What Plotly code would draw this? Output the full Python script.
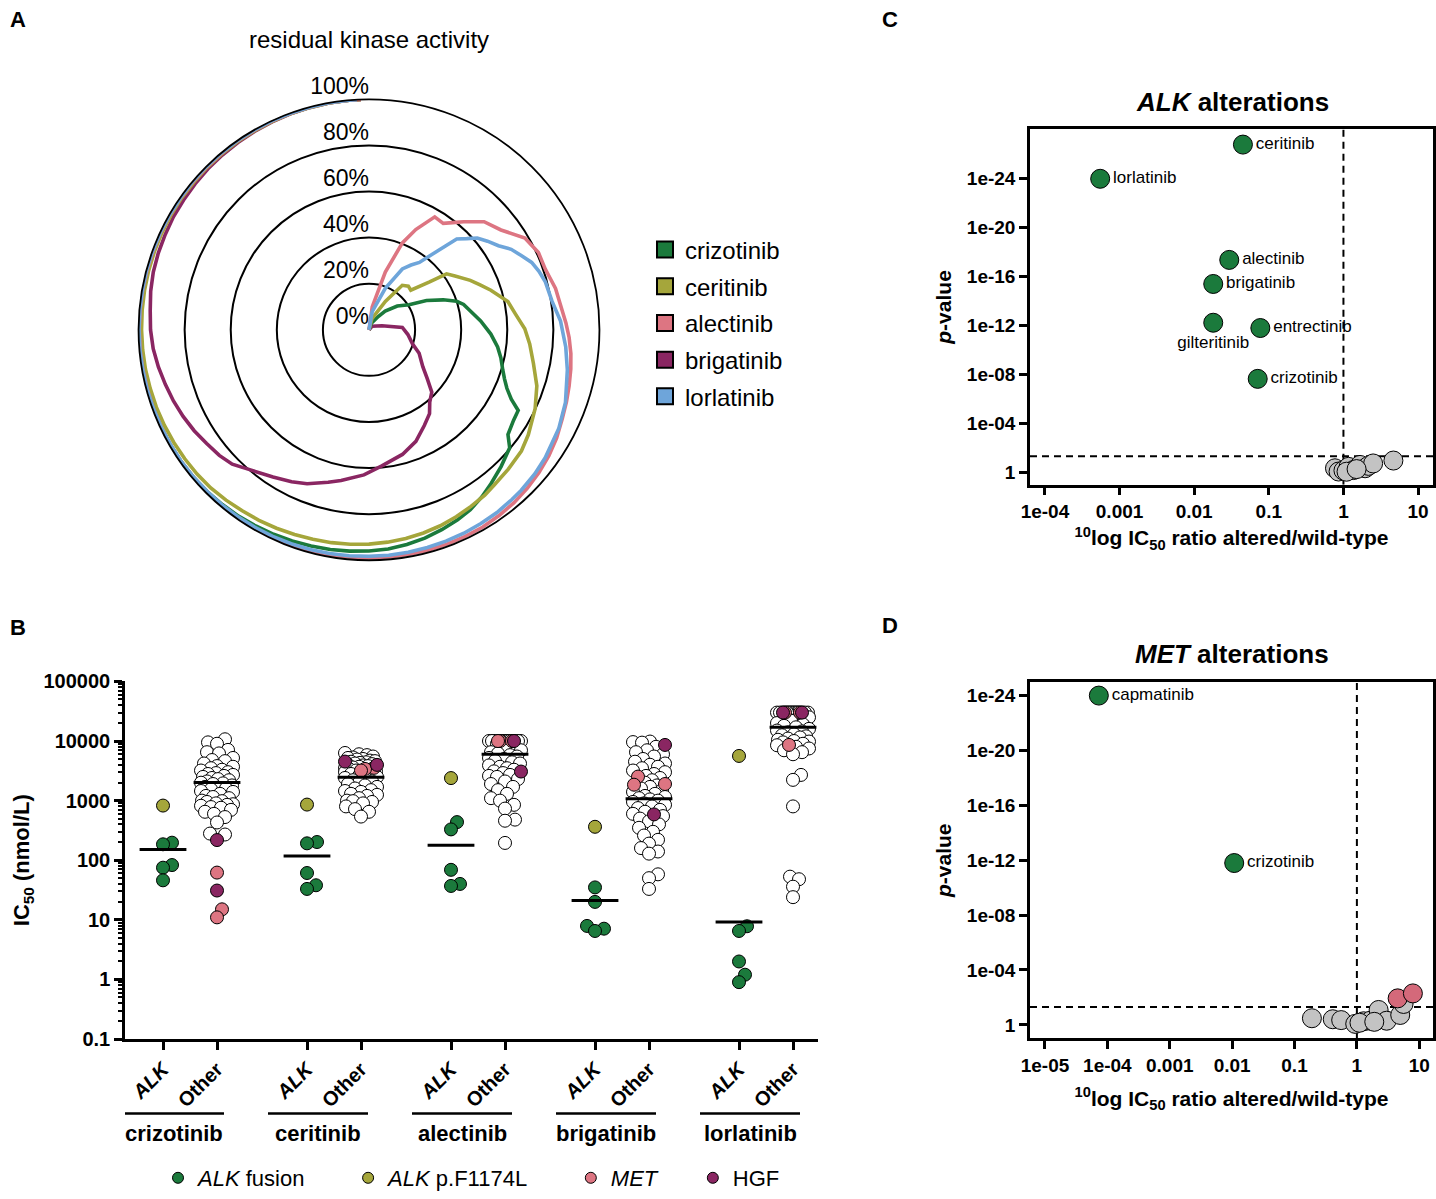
import numpy as np
import plotly.graph_objects as go

W, H = 1436, 1199
FONT = "Arial, Liberation Sans, Helvetica, sans-serif"

GREEN = "#1b7a3c"
OLIVE = "#a5a63b"
PINK = "#dd7582"
PURPLE = "#8a2662"
BLUE = "#6ea5da"
GRAY = "#c3c3c3"

# ---------------- Panel A: residual kinase activity (theta in degrees, r in %) ----------------
a_drugs = ["crizotinib", "ceritinib", "alectinib", "brigatinib", "lorlatinib"]
a_colors = [GREEN, OLIVE, PINK, PURPLE, BLUE]

theta_crizotinib = [0, 20, 35, 41, 50, 58, 63, 68, 72, 75, 80, 85.5, 92, 97.6, 102, 106.7, 110, 113, 116,
                    118.4, 122, 127, 130, 136, 141.6, 146, 150.6, 155, 160, 165, 170, 175, 180, 185, 190,
                    195, 200, 205, 210, 215, 220, 225, 230, 235, 240, 245, 250, 255, 260, 265, 270, 275,
                    280, 285, 290, 295, 300, 305, 310, 315, 320, 325, 330, 335, 340, 345, 350, 355, 358]
r_crizotinib = [0, 3, 7, 10.7, 16, 20.5, 28, 34.7, 40, 42.5, 45, 48.6, 52.9, 56.3, 58.5, 60.6, 62.6, 65, 68.7,
                73.6, 74, 75.5, 79.7, 82.5, 85.2, 87.5, 89.6, 91, 92.3, 93.6, 94.6, 95.5, 96, 96.4, 96.8,
                97.1, 97.5, 97.9, 98.3, 98.7, 99, 99.3, 99.5, 99.6, 99.6, 99.6, 99.6, 99.7, 99.7, 99.7, 99.7, 99.7,
                99.8, 99.8, 99.8, 99.8, 99.8, 99.8, 99.9, 99.9, 99.9, 99.9, 99.9, 99.9, 99.9, 100, 100, 100, 100]

theta_ceritinib = [0, 15, 30, 36.8, 42, 46.5, 51.7, 54.2, 58, 64, 68, 72, 78.5, 84, 89.6, 95, 101.5, 108.5,
                   115.4, 123.4, 128.5, 135, 141, 145, 150, 155, 160, 165, 170, 175, 180, 185, 190, 195, 200,
                   205, 210, 215, 220, 225, 230, 235, 240, 245, 250, 255, 260, 265, 270, 275, 280, 285, 290,
                   295, 300, 305, 310, 315, 320, 325, 330, 335, 340, 345, 350, 355, 358]
r_ceritinib = [0, 5, 14.2, 24.1, 25.5, 25, 33.5, 41.5, 44, 48.9, 52, 55.6, 61.5, 64, 67.6, 70, 72.8, 76.8,
               79.8, 82.8, 84.5, 85.5, 86.5, 87.6, 88.5, 89.5, 90.5, 91.3, 92, 92.5, 93, 93.4, 93.8, 94.1, 94.5,
               95, 95.5, 95.9, 96.5, 97.1, 97.4, 97.6, 97.8, 98, 98.2, 98.3, 98.5, 98.6, 98.7, 98.8, 98.9, 99, 99.1,
               99.2, 99.3, 99.4, 99.4, 99.5, 99.5, 99.6, 99.6, 99.7, 99.8, 99.8, 99.9, 100, 100]

theta_alectinib = [0, 8, 15.8, 21, 25, 30.2, 34.9, 38, 41.2, 46.8, 52.9, 59.5, 65.5, 71, 77.5, 82.6, 88, 92.2,
                   96.7, 101, 105.7, 110, 114.7, 120, 125, 130, 135, 140, 145, 150, 155, 160, 165, 170, 175,
                   180, 185, 190, 195, 200, 205, 210, 215, 220, 225, 230, 235, 240, 245, 250, 255, 260, 265,
                   270, 275, 280, 285, 290, 295, 300, 305, 310, 315, 320, 325, 330, 335, 340, 345, 350, 355, 358]
r_alectinib = [0, 10, 26, 40.4, 48, 56.7, 56.3, 59, 62.3, 68.5, 71.8, 78.5, 80.8, 80.9, 82.9, 83.8, 85.5, 86.9,
               88.2, 89.2, 90.2, 91.2, 92.3, 94, 95.3, 96.3, 97.2, 97.9, 98.4, 98.8, 98.9, 99, 99, 99, 99,
               99, 99.1, 99.1, 99.2, 99.3, 99.3, 99.4, 99.4, 99.5, 99.5, 99.5, 99.6, 99.6, 99.6, 99.6, 99.6, 99.6, 99.7,
               99.7, 99.7, 99.7, 99.7, 99.7, 99.8, 99.8, 99.8, 99.8, 99.8, 99.8, 99.9, 99.9, 99.9, 99.9, 100, 100, 100, 100]

theta_brigatinib = [0, 40, 73, 86, 97, 107.8, 115, 124.4, 130, 134.8, 140, 144.2, 150, 157.2, 165, 174.6, 182,
                    190.5, 195, 201.9, 207, 213.1, 220, 225.5, 230, 235, 240, 245, 250, 255, 260, 265, 270, 275,
                    280, 285, 290, 295, 300, 305, 310, 315, 320, 325, 330, 335, 340, 345, 350, 355, 358]
r_brigatinib = [0, 2, 5.9, 14.5, 17, 19.8, 24, 28.3, 33, 38.4, 41, 44.9, 48, 52.5, 56, 59.3, 63,
                66.5, 68.5, 72, 74, 76.3, 79.5, 83.2, 84.8, 86, 87.6, 89, 90.3, 91.5, 92.8, 94, 94.8, 95.3,
                96.2, 96.9, 97.3, 97.6, 98, 98.2, 98.5, 98.8, 99, 99.2, 99.4, 99.5, 99.7, 99.8, 99.9, 100, 100]

theta_lorlatinib = [0, 10, 21.5, 28.7, 33, 36.8, 41.4, 44, 47, 49.7, 53.2, 57, 60.5, 64, 67.5, 71, 74.8, 81.2,
                    87.4, 95, 101.4, 110.3, 117.4, 126, 131, 136.5, 140, 145, 150, 155, 160, 165, 170, 175,
                    180, 185, 190, 195, 200, 205, 210, 215, 220, 225, 230, 235, 240, 245, 250, 255, 260, 265,
                    270, 275, 280, 285, 290, 295, 300, 305, 310, 315, 320, 325, 330, 335, 340, 345, 350, 355, 357]
r_lorlatinib = [0, 8, 19.3, 30.1, 33.5, 36.5, 46.5, 54.8, 58, 61.6, 64.2, 67, 70.9, 73.5, 76.4, 78, 79.3, 80.4,
                83.2, 85.7, 87.8, 90.9, 92.8, 94.5, 95.3, 96, 96.3, 96.8, 97.1, 97.4, 97.6, 97.8, 98, 98.2,
                98.3, 98.4, 98.6, 98.7, 98.8, 98.9, 99, 99.1, 99.2, 99.3, 99.4, 99.5, 99.5, 99.6, 99.6, 99.7, 99.7, 99.8,
                99.8, 99.8, 99.8, 99.9, 99.9, 99.9, 99.9, 99.9, 100, 100, 100, 100, 100, 100, 100, 100, 100, 100, 100]

a_ticks = [0, 20, 40, 60, 80, 100]
a_ticktext = ["0%", "20%", "40%", "60%", "80%", "100%"]

# ---------------- Panel B: IC50 values (nmol/L) ----------------
b_drugs = ["crizotinib", "ceritinib", "alectinib", "brigatinib", "lorlatinib"]
b_ticktext = ["<i>ALK</i>", "Other"]

crizotinib_alk_fusion = [197, 185, 83, 75, 46]
crizotinib_alk_f1174l = [826]
crizotinib_other = [10700, 9500, 9000, 7100, 6500, 6200, 5200, 4800, 4600, 4200,
                    3800, 3700, 3500, 3300, 3200, 3000, 2900, 2800, 2700, 2600,
                    2500, 2400, 2300, 2200, 2100, 2000, 1950, 1900, 1800, 1700,
                    1650, 1600, 1550, 1450, 1400, 1300, 1200, 1150, 1100, 1000,
                    980, 950, 900, 870, 850, 820, 780, 760, 700, 650,
                    600, 530, 430, 280, 270]
crizotinib_met = [62, 15, 11]
crizotinib_hgf = [218, 31]

ceritinib_alk_fusion = [202, 192, 61, 38, 33]
ceritinib_alk_f1174l = [858]
ceritinib_other = [6300, 6000, 5800, 5500, 5300, 5200, 5000, 4900, 4700, 4600,
                   4500, 4400, 4300, 4200, 4100, 4000, 3900, 3800, 3700, 3600,
                   3500, 3400, 3300, 3200, 3100, 3000, 2900, 2800, 2700, 2600,
                   2500, 2400, 2300, 2200, 2100, 2000, 1900, 1800, 1700, 1600,
                   1500, 1450, 1400, 1300, 1250, 1200, 1100, 1000, 980, 950,
                   900, 800, 720, 650, 540]
ceritinib_met = [3550, 3400, 3200]
ceritinib_hgf = [3980, 4520]

alectinib_alk_fusion = [436, 329, 69, 40, 37]
alectinib_alk_f1174l = [2390]
alectinib_other = [10000, 10000, 10000, 10000, 10000, 10000, 10000, 10000, 10000, 10000,
                   10000, 10000, 10000, 10000, 10000, 10000, 10000, 10000, 10000, 10000,
                   9000, 8000, 7500, 7000, 6500, 6200, 5800, 5500, 5200, 5000,
                   4640, 4400, 4200, 3900, 3700, 3500, 3300, 3100, 2900, 2700,
                   2600, 2500, 2300, 2100, 1900, 1700, 1500, 1300, 1100, 1000,
                   850, 735, 480, 460, 195]
alectinib_met = [10000, 10000, 10000]
alectinib_hgf = [10000, 3075]

brigatinib_alk_fusion = [35, 20, 7.9, 7.1, 6.5]
brigatinib_alk_f1174l = [364]
brigatinib_other = [9800, 9600, 9400, 8000, 7000, 6500, 6000, 5500, 5000, 4500,
                    4200, 4000, 3700, 3500, 3200, 3000, 2800, 2600, 2400, 2200,
                    2000, 1800, 1700, 1600, 1500, 1400, 1300, 1200, 1150, 1100,
                    1050, 1000, 950, 900, 850, 800, 750, 700, 650, 600,
                    550, 500, 450, 400, 350, 300, 260, 220, 190, 160,
                    140, 129, 58, 50, 33]
brigatinib_met = [2530, 1900, 1850]
brigatinib_hgf = [8600, 587]

lorlatinib_alk_fusion = [7.8, 6.5, 2.0, 1.2, 0.9]
lorlatinib_alk_f1174l = [5620]
lorlatinib_other = [30000, 30000, 30000, 30000, 30000, 30000, 30000, 30000, 30000, 30000,
                    30000, 30000, 30000, 30000, 30000, 30000, 30000, 30000, 30000, 30000,
                    30000, 30000, 25000, 22000, 20000, 19000, 18000, 17000, 16000, 15000,
                    14500, 14000, 13000, 12500, 12000, 11500, 11000, 10500, 10000, 9800,
                    9500, 9000, 8500, 8000, 7500, 7000, 6500, 6000, 2700, 2230,
                    800, 53, 48, 36, 24]
lorlatinib_met = [30000, 30000, 8600]
lorlatinib_hgf = [30000, 30000]

alk_medians = [152, 118, 178, 21, 9.2]
other_medians = [2018, 2460, 6000, 1080, 17000]

b_yticks = [0.1, 1, 10, 100, 1000, 10000, 100000]
b_yticktext = ["0.1", "1", "10", "100", "1000", "10000", "100000"]
b_legend_names = ["<i>ALK</i> fusion", "<i>ALK</i> p.F1174L", "<i>MET</i>", "HGF"]

# ---------------- Panel C: ALK alterations ----------------
c_drugs = ["ceritinib", "lorlatinib", "alectinib", "brigatinib", "gilteritinib", "entrectinib", "crizotinib"]
c_ratio = [0.045, 0.00055, 0.0295, 0.018, 0.018, 0.077, 0.071]
c_pvalue = [1.6e-27, 1e-24, 4.3e-18, 4e-16, 5.9e-13, 1.6e-12, 2.3e-8]
c_other_ratio = [0.77, 0.86, 1.0, 1.17, 1.36, 1.67, 1.95, 2.16, 2.5, 4.67, 1.1, 1.5]
c_other_pvalue = [0.47, 0.87, 0.72, 0.36, 0.66, 0.25, 0.47, 0.3, 0.19, 0.11, 0.9, 0.55]

# ---------------- Panel D: MET alterations ----------------
d_drugs = ["capmatinib", "crizotinib"]
d_ratio = [7.3e-5, 0.0108]
d_pvalue = [1e-24, 1.6e-12]
d_other_ratio = [0.19, 0.41, 0.56, 0.94, 1.28, 1.64, 2.1, 2.68, 2.23, 3.0, 4.95, 5.6, 1.1, 1.9]
d_other_pvalue = [0.33, 0.39, 0.45, 0.85, 0.55, 0.5, 0.45, 0.4, 0.082, 0.5, 0.19, 0.03, 0.7, 0.6]
d_met_ratio = [4.5, 7.9]
d_met_pvalue = [0.0117, 0.0051]

volcano_xticks_c = [1e-4, 1e-3, 0.01, 0.1, 1, 10]
volcano_xticktext_c = ["1e-04", "0.001", "0.01", "0.1", "1", "10"]
volcano_xticks_d = [1e-5, 1e-4, 1e-3, 0.01, 0.1, 1, 10]
volcano_xticktext_d = ["1e-05", "1e-04", "0.001", "0.01", "0.1", "1", "10"]
volcano_yticks = [1, 1e-4, 1e-8, 1e-12, 1e-16, 1e-20, 1e-24]
volcano_yticktext = ["1", "1e-04", "1e-08", "1e-12", "1e-16", "1e-20", "1e-24"]
p_threshold = 0.05
ratio_reference = 1.0


# ---------------- helpers ----------------
def fx(px):
    return px / W


def fy(py):
    return 1 - py / H


def swarm(values, diam=13.0, ppd=60.0, gap=0.7, maxw=16.0):
    ys = np.log10(np.asarray(values, float)) * ppd
    order = np.argsort(ys, kind="stable")
    cands = [0.0]
    k = 1
    while k <= maxw:
        cands += [float(k), float(-k)]
        k += 1
    dmin = diam * gap
    placed = []
    offs = np.zeros(len(ys))
    for i in order:
        y = ys[i]
        near = [(px, py) for px, py in placed if abs(py - y) < dmin]
        best, bestd = 0.0, -1.0
        for c in cands:
            d = min((np.hypot(c - px, y - py) for px, py in near), default=1e9)
            if d >= dmin:
                best = c
                break
            if d > bestd + 1e-9:
                bestd, best = d, c
        placed.append((best, y))
        offs[i] = best
    return offs


fig = go.Figure()

# ---------------- Panel A traces ----------------
a_theta = [theta_crizotinib, theta_ceritinib, theta_alectinib, theta_brigatinib, theta_lorlatinib]
a_r = [r_crizotinib, r_ceritinib, r_alectinib, r_brigatinib, r_lorlatinib]
draw_order = [3, 0, 1, 2, 4]
for i in draw_order:
    fig.add_trace(go.Scatterpolar(r=a_r[i], theta=a_theta[i], mode="lines",
                                  line=dict(color=a_colors[i], width=3.6),
                                  showlegend=False, hoverinfo="skip", subplot="polar"))
for k, (name, col) in enumerate(zip(a_drugs, a_colors)):
    fig.add_trace(go.Scatterpolar(r=[None], theta=[None], mode="markers", name=name,
                                  legendgroup="a%d" % k,
                                  marker=dict(symbol="square", size=16, color=col,
                                              line=dict(color="black", width=2)),
                                  legend="legend", subplot="polar"))
fig.add_trace(go.Scatterpolar(r=a_ticks, theta=[0] * len(a_ticks), mode="text", text=a_ticktext,
                              textposition="top left", textfont=dict(size=23, color="black"),
                              showlegend=False, hoverinfo="skip", subplot="polar", cliponaxis=False))

# ---------------- Panel B traces ----------------
PXU = 18.0
b_alk_fusion = [crizotinib_alk_fusion, ceritinib_alk_fusion, alectinib_alk_fusion, brigatinib_alk_fusion, lorlatinib_alk_fusion]
b_alk_f1174l = [crizotinib_alk_f1174l, ceritinib_alk_f1174l, alectinib_alk_f1174l, brigatinib_alk_f1174l, lorlatinib_alk_f1174l]
b_other = [crizotinib_other, ceritinib_other, alectinib_other, brigatinib_other, lorlatinib_other]
b_met = [crizotinib_met, ceritinib_met, alectinib_met, brigatinib_met, lorlatinib_met]
b_hgf = [crizotinib_hgf, ceritinib_hgf, alectinib_hgf, brigatinib_hgf, lorlatinib_hgf]

tickpos = []
mk = dict(size=13, line=dict(color="black", width=1))
for g in range(len(b_drugs)):
    xa = 8 * g - 1.5
    xo = 8 * g + 1.5
    tickpos += [xa, xo]
    vals = list(b_alk_fusion[g]) + list(b_alk_f1174l[g])
    offs = swarm(vals) / PXU
    nf = len(b_alk_fusion[g])
    fig.add_trace(go.Scatter(x=xa + offs[:nf], y=b_alk_fusion[g], mode="markers",
                             marker=dict(color=GREEN, **mk), showlegend=False, xaxis="x", yaxis="y"))
    fig.add_trace(go.Scatter(x=xa + offs[nf:], y=b_alk_f1174l[g], mode="markers",
                             marker=dict(color=OLIVE, **mk), showlegend=False, xaxis="x", yaxis="y"))
    vals = list(b_other[g]) + list(b_met[g]) + list(b_hgf[g])
    offs = swarm(vals) / PXU
    nw = len(b_other[g])
    nm = len(b_met[g])
    fig.add_trace(go.Scatter(x=xo + offs[:nw], y=b_other[g], mode="markers",
                             marker=dict(color="white", **mk), showlegend=False, xaxis="x", yaxis="y"))
    fig.add_trace(go.Scatter(x=xo + offs[nw:nw + nm], y=b_met[g], mode="markers",
                             marker=dict(color=PINK, **mk), showlegend=False, xaxis="x", yaxis="y"))
    fig.add_trace(go.Scatter(x=xo + offs[nw + nm:], y=b_hgf[g], mode="markers",
                             marker=dict(color=PURPLE, **mk), showlegend=False, xaxis="x", yaxis="y"))
    for xc, m in [(xa, alk_medians[g]), (xo, other_medians[g])]:
        fig.add_trace(go.Scatter(x=[xc - 1.3, xc + 1.3], y=[m, m], mode="lines",
                                 line=dict(color="black", width=3), showlegend=False,
                                 hoverinfo="skip", xaxis="x", yaxis="y"))

NB = "\u00a0"
b_legend_pad = [6, 6, 5, 0]
for name, col, pad in zip(b_legend_names, [GREEN, OLIVE, PINK, PURPLE], b_legend_pad):
    fig.add_trace(go.Scatter(x=[None], y=[None], mode="markers", name=name + NB * pad,
                             marker=dict(color=col, size=11, line=dict(color="black", width=1)),
                             legend="legend2", xaxis="x", yaxis="y"))


# ---------------- Panel C / D traces ----------------
def dashed(xs, ys, xa, ya):
    return go.Scatter(x=xs, y=ys, mode="lines", line=dict(color="black", width=2, dash="7px,5px"),
                      showlegend=False, hoverinfo="skip", xaxis=xa, yaxis=ya)


c_xrange = [-4.2, 1.2]
c_yrange = [1.02, -28.06]
d_xrange = [-5.24, 1.22]
d_yrange = [0.96, -24.96]

fig.add_trace(dashed([10 ** c_xrange[0], 10 ** c_xrange[1]], [p_threshold, p_threshold], "x2", "y2"))
fig.add_trace(dashed([ratio_reference, ratio_reference], [10 ** c_yrange[0], 10 ** c_yrange[1]], "x2", "y2"))
fig.add_trace(dashed([10 ** d_xrange[0], 10 ** d_xrange[1]], [p_threshold, p_threshold], "x3", "y3"))
fig.add_trace(dashed([ratio_reference, ratio_reference], [10 ** d_yrange[0], 10 ** d_yrange[1]], "x3", "y3"))

vm = dict(size=19, line=dict(color="black", width=1))
fig.add_trace(go.Scatter(x=c_other_ratio, y=c_other_pvalue, mode="markers",
                         marker=dict(color=GRAY, **vm), showlegend=False, xaxis="x2", yaxis="y2"))
c_pos = ["middle right"] * len(c_drugs)
c_pos[c_drugs.index("gilteritinib")] = "bottom center"
fig.add_trace(go.Scatter(x=c_ratio, y=c_pvalue, mode="markers+text", text=c_drugs,
                         textposition=c_pos, textfont=dict(size=17, color="black"),
                         marker=dict(color=GREEN, **vm), showlegend=False, xaxis="x2", yaxis="y2",
                         cliponaxis=False))

fig.add_trace(go.Scatter(x=d_other_ratio, y=d_other_pvalue, mode="markers",
                         marker=dict(color=GRAY, **vm), showlegend=False, xaxis="x3", yaxis="y3"))
fig.add_trace(go.Scatter(x=d_met_ratio, y=d_met_pvalue, mode="markers",
                         marker=dict(color="#d4697a", **vm), showlegend=False, xaxis="x3", yaxis="y3"))
fig.add_trace(go.Scatter(x=d_ratio, y=d_pvalue, mode="markers+text", text=d_drugs,
                         textposition="middle right", textfont=dict(size=17, color="black"),
                         marker=dict(color=GREEN, **vm), showlegend=False, xaxis="x3", yaxis="y3",
                         cliponaxis=False))

# ---------------- layout ----------------
axis_common = dict(showgrid=False, zeroline=False, showline=True, linecolor="black", linewidth=2.5,
                   ticks="outside", ticklen=8, tickwidth=2.5, tickcolor="black", automargin=False,
                   tickfont=dict(size=19, color="black", weight="bold"))

minor_vals = [m * 10.0 ** e for e in range(-1, 5) for m in range(2, 10)]

b_x_range = [-1.5 - 38 / PXU, 8 * 4 + 1.5 + 25 / PXU]

layout = dict(
    width=W, height=H, margin=dict(l=0, r=0, t=0, b=0),
    paper_bgcolor="white", plot_bgcolor="white",
    font=dict(family=FONT, color="black"),
    polar=dict(
        domain=dict(x=[fx(137), fx(601)], y=[fy(564), fy(100)]),
        bgcolor="white",
        radialaxis=dict(range=[0, 100], tickvals=[20, 40, 60, 80], showticklabels=False, ticks="",
                        showline=False, gridcolor="black", gridwidth=1.8),
        angularaxis=dict(rotation=90, direction="clockwise", showgrid=False, showticklabels=False,
                         ticks="", showline=True, linecolor="black", linewidth=1.8),
    ),
    legend=dict(x=fx(645), y=fy(229), xanchor="left", yanchor="top", font=dict(size=24),
                bgcolor="rgba(0,0,0,0)", tracegroupgap=2.5),
    legend2=dict(orientation="h", x=fx(158), y=fy(1186), xanchor="left", yanchor="middle",
                 font=dict(size=22), bgcolor="rgba(0,0,0,0)"),
    xaxis=dict(axis_common, domain=[fx(125), fx(818)], range=b_x_range, anchor="y",
               tickvals=tickpos, ticktext=b_ticktext * len(b_drugs), tickangle=-45,
               tickfont=dict(size=20, color="black", weight="bold")),
    yaxis=dict(axis_common, domain=[fy(1046), fy(686)], type="log", range=[-1, 5], anchor="x",
               tickvals=b_yticks, ticktext=b_yticktext, tickfont=dict(size=20, color="black", weight="bold"),
               minor=dict(tickvals=minor_vals, ticks="outside", ticklen=4, tickwidth=1.5, tickcolor="black"),
               title=dict(text="<b>IC<sub>50</sub> (nmol/L)</b>", font=dict(size=22), standoff=8)),
    xaxis2=dict(axis_common, domain=[fx(1030), fx(1433)], type="log", range=c_xrange, anchor="y2",
                mirror=True, tickvals=volcano_xticks_c, ticktext=volcano_xticktext_c,
                title=dict(text="<b><sup>10</sup>log IC<sub>50</sub> ratio altered/wild-type</b>",
                           font=dict(size=21), standoff=10)),
    yaxis2=dict(axis_common, domain=[fy(488), fy(130)], type="log", range=c_yrange, anchor="x2",
                mirror=True, tickvals=volcano_yticks, ticktext=volcano_yticktext,
                title=dict(text="<b><i>p</i>-value</b>", font=dict(size=21), standoff=10)),
    xaxis3=dict(axis_common, domain=[fx(1030), fx(1433)], type="log", range=d_xrange, anchor="y3",
                mirror=True, tickvals=volcano_xticks_d, ticktext=volcano_xticktext_d,
                title=dict(text="<b><sup>10</sup>log IC<sub>50</sub> ratio altered/wild-type</b>",
                           font=dict(size=21), standoff=17)),
    yaxis3=dict(axis_common, domain=[fy(1045), fy(687)], type="log", range=d_yrange, anchor="x3",
                mirror=True, tickvals=volcano_yticks, ticktext=volcano_yticktext,
                title=dict(text="<b><i>p</i>-value</b>", font=dict(size=21), standoff=10)),
)
fig.update_layout(**layout)

ann = [
    dict(text="<b>A</b>", x=fx(8), y=fy(20), xanchor="left", yanchor="middle", font=dict(size=22)),
    dict(text="<b>B</b>", x=fx(8), y=fy(632), xanchor="left", yanchor="middle", font=dict(size=22)),
    dict(text="<b>C</b>", x=fx(880), y=fy(20), xanchor="left", yanchor="middle", font=dict(size=22)),
    dict(text="<b>D</b>", x=fx(880), y=fy(630), xanchor="left", yanchor="middle", font=dict(size=22)),
    dict(text="residual kinase activity", x=fx(369), y=fy(40), xanchor="center", yanchor="middle",
         font=dict(size=24)),
    dict(text="<b><i>ALK</i> alterations</b>", x=fx(1232), y=fy(103), xanchor="center", yanchor="middle",
         font=dict(size=26)),
    dict(text="<b><i>MET</i> alterations</b>", x=fx(1232), y=fy(658), xanchor="center", yanchor="middle",
         font=dict(size=26)),
]
for a in ann:
    a.update(xref="paper", yref="paper", showarrow=False)

shapes = []
for g, name in enumerate(b_drugs):
    xc = 8 * g - 16 / PXU
    half = 50 / PXU
    shapes.append(dict(type="line", xref="x", yref="paper", x0=xc - half, x1=xc + half,
                       y0=fy(1121), y1=fy(1121), line=dict(color="black", width=2.5)))
    ann.append(dict(text="<b>" + name + "</b>", x=xc, y=fy(1141), xref="x", yref="paper",
                    xanchor="center", yanchor="middle", showarrow=False, font=dict(size=22)))

fig.update_layout(annotations=ann, shapes=shapes)
fig.write_html("out.html", config={"displayModeBar": False},
               post_script="document.body.style.margin='0px';document.body.style.overflow='hidden';")
